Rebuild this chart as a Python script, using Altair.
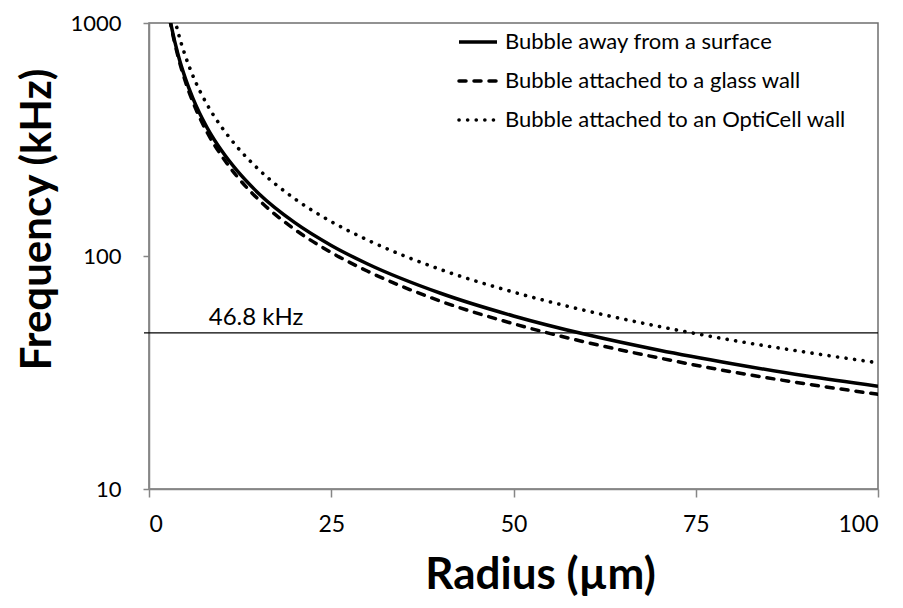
import altair as alt
import pandas as pd

# ---- data ----
series_names = [
    "Bubble away from a surface",
    "Bubble attached to a glass wall",
    "Bubble attached to an OptiCell wall",
]

radius_solid = [2.5, 3, 4, 5, 6, 8, 10, 12, 15, 20, 25, 30, 40, 50, 60, 70, 80, 90, 100]
freq_solid = [1205, 990, 729, 577, 477, 354, 282, 234, 186, 139, 111, 92.4, 69.2, 55.3, 46.0, 39.4, 34.5, 30.6, 27.6]

radius_dashed = [2.5, 3, 4, 5, 6, 8, 10, 12, 15, 20, 25, 30, 40, 50, 60, 70, 80, 90, 100]
freq_dashed = [1200, 980, 715, 560, 460, 338, 268, 221, 175, 130, 103.5, 86, 64, 51.2, 42.6, 36.5, 31.8, 28.3, 25.5]

radius_dotted = [3, 4, 5, 6, 8, 10, 12, 15, 20, 25, 30, 40, 50, 60, 70, 80, 90, 100]
freq_dotted = [1230, 910, 720, 596, 445, 356, 296, 236, 176, 140.5, 117, 87.5, 70, 58.2, 49.8, 43.5, 38.7, 34.8]

ref_freq = [46.8]
ref_label = ["46.8 kHz"]
ref_label_radius = [8.2]

x_ticks = [0, 25, 50, 75, 100]
y_ticks = [10, 100, 1000]

FONT = "Lato"
W, H = 729, 466

x_scale = alt.Scale(domain=[0, 100], nice=False, zero=False)
y_scale = alt.Scale(type="log", domain=[10, 1000], nice=False)

x_axis = alt.Axis(values=x_ticks, format="d", title="Radius (µm)",
                  titleFontSize=44, titleFontWeight="bold", titleFont=FONT,
                  titleX=391, titleY=86, titleBaseline="middle", titleAnchor="start",
                  titleAlign="center",
                  labelFontSize=23, labelFont=FONT, labelPadding=16,
                  tickSize=8, grid=False)
y_axis = alt.Axis(values=y_ticks, format="d", title="Frequency (kHz)",
                  titleFontSize=42, titleFontWeight="bold", titleFont=FONT,
                  titleX=-112, titleY=196, titleAngle=270, titleBaseline="middle",
                  titleAlign="center", titleAnchor="start",
                  labelFontSize=22, labelFont=FONT, labelPadding=22,
                  tickSize=6, grid=False)

styles = [
    dict(strokeWidth=3.5),
    dict(strokeWidth=3.5, strokeDash=[7, 8], strokeCap="round"),
    dict(strokeWidth=3.6, strokeDash=[0.1, 8.5], strokeCap="round"),
]
datasets = [
    (radius_solid, freq_solid),
    (radius_dashed, freq_dashed),
    (radius_dotted, freq_dotted),
]

layers = []
for name, (rs, fs), st in zip(series_names, datasets, styles):
    df = pd.DataFrame({"radius": rs, "freq": fs, "series": name})
    layers.append(
        alt.Chart(df).mark_line(color="black", clip=True, interpolate="monotone", **st).encode(
            x=alt.X("radius:Q", scale=x_scale, axis=x_axis),
            y=alt.Y("freq:Q", scale=y_scale, axis=y_axis),
        )
    )

ref_df = pd.DataFrame({"freq": ref_freq, "label": ref_label, "radius": ref_label_radius})
layers.append(
    alt.Chart(ref_df).mark_rule(color="black", strokeWidth=1.2).encode(
        y=alt.Y("freq:Q", scale=y_scale),
        x=alt.value(-5), x2=alt.value(W),
    )
)
layers.append(
    alt.Chart(ref_df).mark_text(font=FONT, fontSize=24, align="left", baseline="bottom", dy=-3,
                                color="black").encode(
        x=alt.X("radius:Q", scale=x_scale),
        y=alt.Y("freq:Q", scale=y_scale),
        text="label:N",
    )
)

# manual legend (inside plot, top right)
legend_rows_y = [19, 58, 97]
for name, st, ry in zip(series_names, styles, legend_rows_y):
    ldf = pd.DataFrame({"label": [name]})
    layers.append(
        alt.Chart(ldf).mark_rule(color="black", **st).encode(
            x=alt.value(310), x2=alt.value(348), y=alt.value(ry)
        )
    )
    layers.append(
        alt.Chart(ldf).mark_text(font=FONT, fontSize=22, align="left", baseline="middle",
                                 color="black").encode(
            x=alt.value(356), y=alt.value(ry), text="label:N"
        )
    )

chart = alt.layer(*layers).properties(
    width=W, height=H,
    autosize=alt.AutoSizeParams(type="none"),
    padding={"left": 141, "top": 15, "right": 10, "bottom": 110},
    background="white",
).configure_view(
    stroke="#6f6f6f", strokeWidth=1.5
).configure_axis(
    domainColor="#868686", domainWidth=1.5, tickColor="#868686", tickWidth=1.5,
    labelColor="black", titleColor="black",
)

chart.save("out.html", embed_options={"renderer": "svg", "actions": False})
